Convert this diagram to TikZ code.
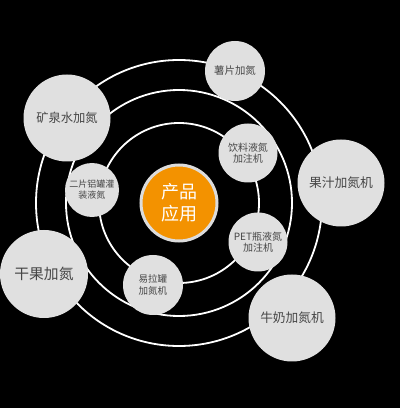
\documentclass[tikz,border=0pt]{standalone}
\usepackage{fontspec}
\setmainfont{Noto Sans CJK SC}
\definecolor{bubble}{HTML}{E0E0E0}
\definecolor{txt}{HTML}{464646}
\definecolor{orng}{HTML}{F39200}
\definecolor{ring}{HTML}{DCDCDC}
\begin{document}
\begin{tikzpicture}[x=1pt,y=1pt,
  orbit/.style={draw=white,line width=1.8pt},
  bub/.style={circle,fill=bubble,text=txt,inner sep=0pt,align=center,minimum size=#1},
  ]
\fill[black] (0,0) rectangle (400,408);
\useasboundingbox (0,0) rectangle (400,408);
\coordinate (c) at (179,205);
\draw[orbit] (c) circle (80);
\draw[orbit] (c) circle (113);
\draw[orbit] (c) circle (143);
\node[circle,fill=orng,draw=ring,line width=3pt,minimum size=76pt,text=white,align=center,
  font=\fontsize{18}{22}\selectfont] (center) at (c) {产品\\应用};
\node[bub=60pt,font=\fontsize{10.4}{12}\selectfont] (shupian) at (235,337) {薯片加氮};
\node[bub=87pt,font=\fontsize{12.3}{14}\selectfont] (kuangquan) at (67,290) {矿泉水加氮};
\node[bub=59pt,font=\fontsize{10}{11.5}\selectfont] (yinliao) at (248,255) {饮料液氮\\加注机};
\node[bub=87pt,font=\fontsize{12.8}{15}\selectfont] (guozhi) at (341,225) {果汁加氮机};
\node[bub=54pt,font=\fontsize{9}{11}\selectfont] (erpian) at (92,218) {二片铝罐灌\\装液氮};
\node[bub=59pt,font=\fontsize{10}{11.5}\selectfont] (pet) at (258,166) {PET瓶液氮\\加注机};
\node[bub=88pt,font=\fontsize{14.8}{17}\selectfont] (ganguo) at (44,134) {干果加氮};
\node[bub=60pt,font=\fontsize{9.5}{11.5}\selectfont] (yilaguan) at (153,123) {易拉罐\\加氮机};
\node[bub=87pt,font=\fontsize{12.7}{15}\selectfont] (niunai) at (292,90) {牛奶加氮机};
\end{tikzpicture}
\end{document}
